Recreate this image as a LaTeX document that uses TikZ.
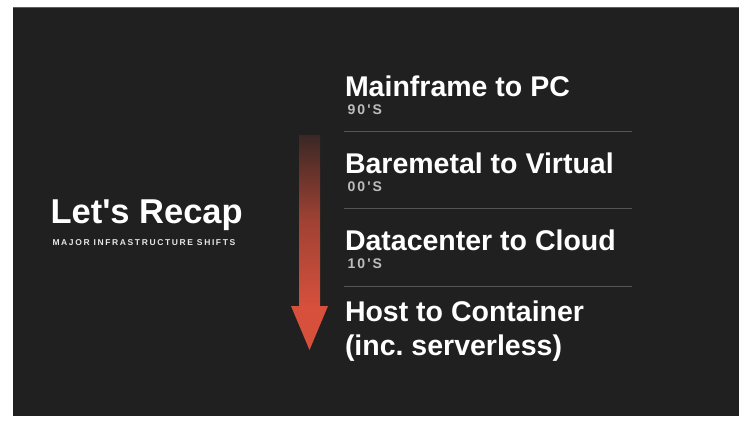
\documentclass[tikz,border=0pt]{standalone}
\usepackage{fontspec}
\setmainfont{Liberation Sans}
\newfontfamily\subfont{Liberation Sans}[LetterSpace=19]
\newfontfamily\yearfont{Liberation Sans}[LetterSpace=15, Ligatures=TeXOff]
\definecolor{bg}{HTML}{202020}
\definecolor{topline}{HTML}{5E5E5E}
\definecolor{sepline}{HTML}{555555}
\definecolor{arrowred}{HTML}{D6503C}
\definecolor{yeargray}{HTML}{BDBDBD}
\definecolor{subgray}{HTML}{E6E6E6}
\frenchspacing
\tikzset{
  txt/.style={anchor=base west, inner sep=0pt, outer sep=0pt, text=white},
  item/.style={txt, font=\fontsize{28.5}{34}\selectfont\bfseries},
  year/.style={txt, text=yeargray, font=\fontsize{14}{16}\yearfont\bfseries},
  sep/.style={draw=sepline, line width=1pt},
}
\begin{document}
\begin{tikzpicture}[x=1pt, y=-1pt]
\useasboundingbox (0,0) rectangle (746,433);
\fill[white] (0,0) rectangle (746,433);
\fill[bg] (13,7) rectangle (739,416);
\draw[topline, line width=1pt] (13,7.5) -- (739,7.5);
% arrow
\shade[top color=bg!85!arrowred, bottom color=arrowred, middle color=arrowred!70!bg] (299,135) rectangle (320,306.5);
\fill[arrowred] (291,306) -- (328,306) -- (309.5,350) -- cycle;
% left title
\node[txt, font=\fontsize{34.5}{40}\selectfont\bfseries] (title) at (50.5,223) {Let\textquotesingle s Recap};
\node[txt, text=subgray, font=\fontsize{8.5}{10}\subfont\bfseries] (subtitle) at (52.5,245) {MAJOR INFRASTRUCTURE SHIFTS};
% items
\node[item] (i1) at (345,96.5) {Mainframe to PC};
\node[year] (y1) at (347.5,114.5) {90'S};
\coordinate (s1a) at (344,131); \coordinate (s1b) at (632,131);
\draw[sep] (s1a) -- (s1b);
\node[item] (i2) at (345,173) {Baremetal to Virtual};
\node[year] (y2) at (347.5,191.5) {00'S};
\coordinate (s2a) at (344,208.5); \coordinate (s2b) at (632,208.5);
\draw[sep] (s2a) -- (s2b);
\node[item] (i3) at (345,250) {Datacenter to Cloud};
\node[year] (y3) at (347.5,268.5) {10'S};
\coordinate (s3a) at (344,286); \coordinate (s3b) at (632,286);
\draw[sep] (s3a) -- (s3b);
\node[item] (i4) at (345,321.5) {Host to Container};
\node[item] (i5) at (345,355.5) {(inc. serverless)};
\end{tikzpicture}
\end{document}
